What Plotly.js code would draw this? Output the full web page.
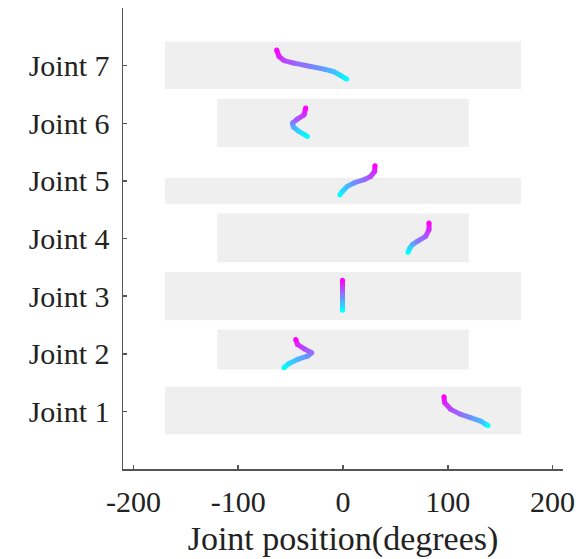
<!DOCTYPE html>
<html>
<head>
<meta charset="utf-8">
<script src="https://cdn.plot.ly/plotly-3.0.1.min.js"></script>
<style>html,body{margin:0;padding:0;background:#fff;}#chart{width:581px;height:559px;}</style>
</head>
<body>
<div id="chart"></div>
<script>
// Joint labels (y positions 1..7)
const jointLabels = ["Joint 1","Joint 2","Joint 3","Joint 4","Joint 5","Joint 6","Joint 7"];
const jointIndex = [1,2,3,4,5,6,7];
// X tick values and labels
const xTickVals = [-200,-100,0,100,200];
const xTickText = ["-200","-100","0","100","200"];
// Joint limits (degrees)
const limitLow  = [-170,-120,-170,-120,-170,-120,-170];
const limitHigh = [ 170, 120, 170, 120, 170, 120, 170];
// Vertical extent of each grey limit band (in y-axis units)
const bandLow  = [0.601,1.728,2.582,3.588,4.605,5.588,6.593];
const bandHigh = [1.428,2.421,3.418,4.432,5.050,6.425,7.418];

// Trajectories: x = joint position (deg), y = plotted height (start at top = magenta, end at bottom = cyan)
const j1x = [96.4, 97.0, 102.8, 112.3, 121.8, 131.4, 136.2, 138.4];
const j1y = [1.255, 1.151, 1.035, 0.948, 0.891, 0.832, 0.775, 0.757];
const j2x = [-45.1, -43.5, -37.2, -29.9, -34.0, -43.5, -51.5, -56.3];
const j2y = [2.248, 2.161, 2.087, 2.017, 1.958, 1.901, 1.832, 1.757];
const j3x = [-0.5, -0.5, -0.5, -0.5, -0.5];
const j3y = [3.276, 3.146, 3.016, 2.886, 2.756];
const j4x = [82.1, 82.1, 78.9, 71.0, 66.2, 63.9, 62.0];
const j4y = [4.270, 4.154, 4.038, 3.951, 3.894, 3.837, 3.761];
const j5x = [30.5, 30.2, 26.4, 20.0, 10.5, 4.2, -0.6, -2.9];
const j5y = [5.263, 5.165, 5.078, 5.021, 4.964, 4.905, 4.818, 4.761];
const j6x = [-35.6, -37.2, -43.5, -48.3, -47.3, -42.0, -34.0];
const j6y = [6.263, 6.147, 6.073, 6.003, 5.934, 5.858, 5.771];
const j7x = [-63.3, -61.1, -56.3, -46.8, -30.8, -18.1, -9.2, -2.2, 3.5];
const j7y = [7.270, 7.158, 7.088, 7.043, 6.984, 6.939, 6.898, 6.828, 6.766];

const trajX = [j1x,j2x,j3x,j4x,j5x,j6x,j7x];
const trajY = [j1y,j2y,j3y,j4y,j5y,j6y,j7y];

// "cool" colormap: t=0 cyan, t=1 magenta
function cool(t){
  const r = Math.round(255*t), g = Math.round(255*(1-t));
  return 'rgb('+r+','+g+',255)';
}

const traces = [];
traces.push({
  type:'bar', orientation:'h',
  y: jointIndex.map((_,i)=> (bandLow[i]+bandHigh[i])/2),
  x: limitHigh.map((h,i)=> h-limitLow[i]),
  base: limitLow,
  width: bandHigh.map((h,i)=> h-bandLow[i]),
  marker:{color:'#efefef', line:{width:0}},
  hoverinfo:'skip', showlegend:false
});

const LW = 5;
trajX.forEach((xs,k)=>{
  const ys = trajY[k];
  const n = xs.length;
  for(let i=0;i<n-1;i++){
    const t = 1 - (i+0.5)/(n-1);
    traces.push({
      type:'scatter', mode:'lines', x:[xs[i],xs[i+1]], y:[ys[i],ys[i+1]],
      line:{color:cool(t), width:LW}, hoverinfo:'skip', showlegend:false
    });
  }
  traces.push({
    type:'scatter', mode:'markers', x:xs, y:ys,
    marker:{size:LW, color:xs.map((_,i)=>cool(1 - i/(n-1))), line:{width:0}},
    hoverinfo:'skip', showlegend:false
  });
});

const font = {family:'"Liberation Serif", "Times New Roman", serif', color:'#222'};

const layout = {
  width:581, height:559,
  margin:{l:123, r:18, t:8, b:90},
  paper_bgcolor:'#fff', plot_bgcolor:'#fff',
  showlegend:false,
  barmode:'overlay',
  font: Object.assign({size:30}, font),
  xaxis:{
    range:[-210,210], tickvals:xTickVals, ticktext:xTickText,
    showline:true, linecolor:'#555', linewidth:1.5,
    ticks:'inside', ticklen:4, tickcolor:'#555', tickwidth:1.5,
    showgrid:false, zeroline:false, ticklabelstandoff:5,
    tickfont:Object.assign({size:30}, font),
    title:{text:'Joint position(degrees)', font:Object.assign({size:34}, font), standoff:9}
  },
  yaxis:{
    range:[0,8], tickvals:jointIndex, ticktext:jointLabels,
    showline:true, linecolor:'#555', linewidth:1.5,
    ticks:'inside', ticklen:4, tickcolor:'#555', tickwidth:1.5,
    showgrid:false, zeroline:false, ticklabelstandoff:6,
    tickfont:Object.assign({size:30}, font)
  }
};

Plotly.newPlot('chart', traces, layout, {displayModeBar:false, staticPlot:true});
</script>
</body>
</html>
